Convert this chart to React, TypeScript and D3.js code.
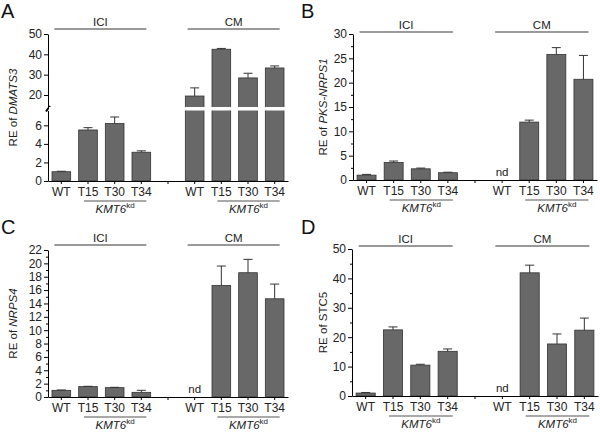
import React, { useEffect, useRef } from 'react'
import * as d3 from 'd3'

const groups = ['ICI', 'CM']
const strains = ['WT', 'T15', 'T30', 'T34']
const slots = ['ICI-WT', 'ICI-T15', 'ICI-T30', 'ICI-T34', 'gap', 'CM-WT', 'CM-T15', 'CM-T30', 'CM-T34']

// A - DMATS3 (broken axis)
const dmats3Ici = [1.0, 5.5, 6.2, 3.1]
const dmats3IciErr = [0.05, 0.25, 0.7, 0.15]
const dmats3Cm = [19.5, 42.5, 28.4, 33.3]
const dmats3CmErr = [4.0, 0.4, 2.3, 1.0]
const dmats3TicksLow = [0, 2, 4, 6]
const dmats3TicksHigh = [20, 30, 40, 50]

// B - PKS-NRPS1
const pksIci = [1.0, 3.6, 2.3, 1.5]
const pksIciErr = [0.15, 0.3, 0.15, 0.1]
const pksCm = [null, 11.9, 25.8, 20.7]
const pksCmErr = [0, 0.4, 1.4, 4.9]
const pksTicks = [0, 5, 10, 15, 20, 25, 30]
const pksMinor = [2.5, 7.5, 12.5, 17.5, 22.5, 27.5]

// C - NRPS4
const nrpsIci = [1.0, 1.55, 1.4, 0.7]
const nrpsIciErr = [0.05, 0.05, 0.05, 0.3]
const nrpsCm = [null, 16.7, 18.6, 14.7]
const nrpsCmErr = [0, 2.9, 2.0, 2.2]
const nrpsTicks = [0, 2, 4, 6, 8, 10, 12, 14, 16, 18, 20, 22]
const nrpsMinor = [1, 3, 5, 7, 9, 11, 13, 15, 17, 19, 21]

// D - STC5
const stcIci = [1.0, 22.5, 10.5, 15.2]
const stcIciErr = [0.2, 1.0, 0.3, 0.8]
const stcCm = [null, 41.9, 17.7, 22.4]
const stcCmErr = [0, 2.6, 3.4, 4.1]
const stcTicks = [0, 10, 20, 30, 40, 50]
const stcMinor = [5, 15, 25, 35, 45]

const panels = [
    { letter: 'A', gene: 'DMATS3', italic: true, ici: dmats3Ici, iciErr: dmats3IciErr, cm: dmats3Cm, cmErr: dmats3CmErr,
      broken: true, dx: 0, dy: 0, axisX: 48, end: 288, y0: 181, yTop: 34, titleX: 17, lineY: 29 },
    { letter: 'B', gene: 'PKS-NRPS1', italic: true, ici: pksIci, iciErr: pksIciErr, cm: pksCm, cmErr: pksCmErr,
      ticks: pksTicks, minor: pksMinor, max: 30, dx: 300, dy: 0, axisX: 53, end: 297, y0: 180, yTop: 34, titleX: 27, lineY: 32 },
    { letter: 'C', gene: 'NRPS4', italic: true, ici: nrpsIci, iciErr: nrpsIciErr, cm: nrpsCm, cmErr: nrpsCmErr,
      ticks: nrpsTicks, minor: nrpsMinor, max: 22, dx: 0, dy: 216, axisX: 48, end: 288, y0: 181, yTop: 34, titleX: 17, lineY: 29 },
    { letter: 'D', gene: 'STC5', italic: false, ici: stcIci, iciErr: stcIciErr, cm: stcCm, cmErr: stcCmErr,
      ticks: stcTicks, minor: stcMinor, max: 50, dx: 300, dy: 216, axisX: 52, end: 298, y0: 180, yTop: 33, titleX: 27, lineY: 30 },
]

const font = '"Liberation Sans", Arial, sans-serif'
const tickFont = 12

const drawPanel = (svg, p) => {
    const g = svg.append('g').attr('transform', `translate(${p.dx},${p.dy})`)
        .attr('font-family', font)

    const x = d3.scaleBand().domain(slots).range([p.axisX, p.end]).padding(0)
    const bw = x.bandwidth() * 0.7
    const cx = k => x(k) + x.bandwidth() / 2

    // y scale (piecewise when the axis is broken)
    let y
    const gapTop = 107, gapBottom = 110.5
    if (p.broken) {
        const lower = d3.scaleLinear().domain([0, 7.6]).range([p.y0, gapBottom])
        const upper = d3.scaleLinear().domain([14.1, 50]).range([gapTop, p.yTop])
        y = v => v <= 7.6 ? lower(v) : upper(v)
        const a1 = g.append('g').attr('transform', `translate(${p.axisX},0)`)
            .call(d3.axisLeft(lower).tickValues(dmats3TicksLow).tickSize(4).tickSizeOuter(0).tickPadding(2))
        const a2 = g.append('g').attr('transform', `translate(${p.axisX},0)`)
            .call(d3.axisLeft(upper).tickValues(dmats3TicksHigh).tickSize(4).tickSizeOuter(0).tickPadding(2))
        ;[a1, a2].forEach(a => a.selectAll('text').attr('font-size', tickFont).attr('font-family', font).attr('fill', '#222'))
        g.append('line').attr('x1', p.axisX - 2).attr('x2', p.axisX + 2)
            .attr('y1', gapBottom + 1).attr('y2', gapTop - 1)
            .attr('stroke', '#000').attr('stroke-width', 2)
    } else {
        const lin = d3.scaleLinear().domain([0, p.max]).range([p.y0, p.yTop])
        y = lin
        const a = g.append('g').attr('transform', `translate(${p.axisX},0)`)
            .call(d3.axisLeft(lin).tickValues(p.ticks).tickSize(4).tickSizeOuter(0).tickPadding(2))
        a.selectAll('text').attr('font-size', tickFont).attr('font-family', font).attr('fill', '#222')
        g.append('g').attr('transform', `translate(${p.axisX},0)`)
            .call(d3.axisLeft(lin).tickValues(p.minor).tickSize(2).tickSizeOuter(0).tickFormat(() => ''))
            .select('.domain').remove()
    }

    // y title
    const title = g.append('text')
        .attr('transform', `translate(${p.titleX},${(p.y0 + p.yTop) / 2}) rotate(-90)`)
        .attr('text-anchor', 'middle').attr('font-size', 11.5).attr('fill', '#222')
    title.append('tspan').text('RE of ')
    title.append('tspan').attr('font-style', p.italic ? 'italic' : 'normal').text(p.gene)

    // bars
    const rows = []
    groups.forEach((grp, gi) => {
        const vals = gi === 0 ? p.ici : p.cm
        const errs = gi === 0 ? p.iciErr : p.cmErr
        strains.forEach((s, si) => rows.push({ key: `${grp}-${s}`, value: vals[si], err: errs[si] }))
    })

    g.selectAll('rect.bar')
        .data(rows.filter(d => d.value != null))
        .enter().append('rect')
            .attr('class', 'bar')
            .attr('x', d => cx(d.key) - bw / 2)
            .attr('y', d => y(d.value))
            .attr('width', bw)
            .attr('height', d => p.y0 - y(d.value))
            .attr('fill', '#686868')
            .attr('stroke', '#333')
            .attr('stroke-width', 0.8)

    // error bars (upper only)
    const eb = g.selectAll('g.err')
        .data(rows.filter(d => d.value != null && d.err > 0))
        .enter().append('g').attr('stroke', '#333').attr('stroke-width', 1)
    eb.append('line')
        .attr('x1', d => cx(d.key)).attr('x2', d => cx(d.key))
        .attr('y1', d => y(d.value)).attr('y2', d => y(d.value + d.err))
    eb.append('line')
        .attr('x1', d => cx(d.key) - 4.5).attr('x2', d => cx(d.key) + 4.5)
        .attr('y1', d => y(d.value + d.err)).attr('y2', d => y(d.value + d.err))

    if (p.broken) {
        g.append('rect').attr('x', p.axisX + 1).attr('width', p.end - p.axisX)
            .attr('y', gapTop).attr('height', gapBottom - gapTop).attr('fill', '#fff')
    }

    // nd labels
    g.selectAll('text.nd')
        .data(rows.filter(d => d.value == null))
        .enter().append('text')
            .attr('x', d => cx(d.key)).attr('y', p.y0 - 4)
            .attr('text-anchor', 'middle').attr('font-size', 11.5).attr('fill', '#222')
            .text('nd')

    // x axis
    const xa = g.append('g').attr('transform', `translate(0,${p.y0})`)
        .call(d3.axisBottom(x).tickSize(3).tickSizeOuter(0).tickPadding(3)
            .tickFormat(k => k === 'gap' ? '' : k.split('-')[1]))
    xa.selectAll('text').attr('font-size', tickFont).attr('font-family', font).attr('fill', '#222')

    // group lines and labels
    groups.forEach(grp => {
        const first = cx(`${grp}-WT`), last = cx(`${grp}-T34`)
        const x1 = first - 7, x2 = last + 5
        g.append('line').attr('x1', x1).attr('x2', x2).attr('y1', p.lineY).attr('y2', p.lineY)
            .attr('stroke', '#777').attr('stroke-width', 1.3)
        g.append('text').attr('x', (x1 + x2) / 2).attr('y', p.lineY - 3)
            .attr('text-anchor', 'middle').attr('font-size', 11.5).attr('fill', '#222').text(grp)

        const k1 = cx(`${grp}-T15`) - 4
        g.append('line').attr('x1', k1).attr('x2', x2).attr('y1', p.y0 + 20).attr('y2', p.y0 + 20)
            .attr('stroke', '#555').attr('stroke-width', 1.2)
        const kl = g.append('text').attr('x', (k1 + x2) / 2).attr('y', p.y0 + 32)
            .attr('text-anchor', 'middle').attr('font-size', 11.5).attr('fill', '#222')
        kl.append('tspan').attr('font-style', 'italic').text('KMT6')
        kl.append('tspan').attr('font-size', 8).attr('dy', -5).text('kd')
    })

    // panel letter
    svg.append('text').attr('x', p.dx + 1).attr('y', p.dy + 18)
        .attr('font-family', font).attr('font-size', 20).attr('fill', '#111').text(p.letter)
}

const App = () => {
    const ref = useRef(null)

    useEffect(() => {
        const svg = d3.select(ref.current)
        svg.selectAll('*').remove()
        panels.forEach(p => drawPanel(svg, p))
    }, [])

    return (
        <svg ref={ref} width={600} height={432}
            style={{ position: 'absolute', left: 0, top: 0, background: '#fff' }} />
    )
}

export default App
